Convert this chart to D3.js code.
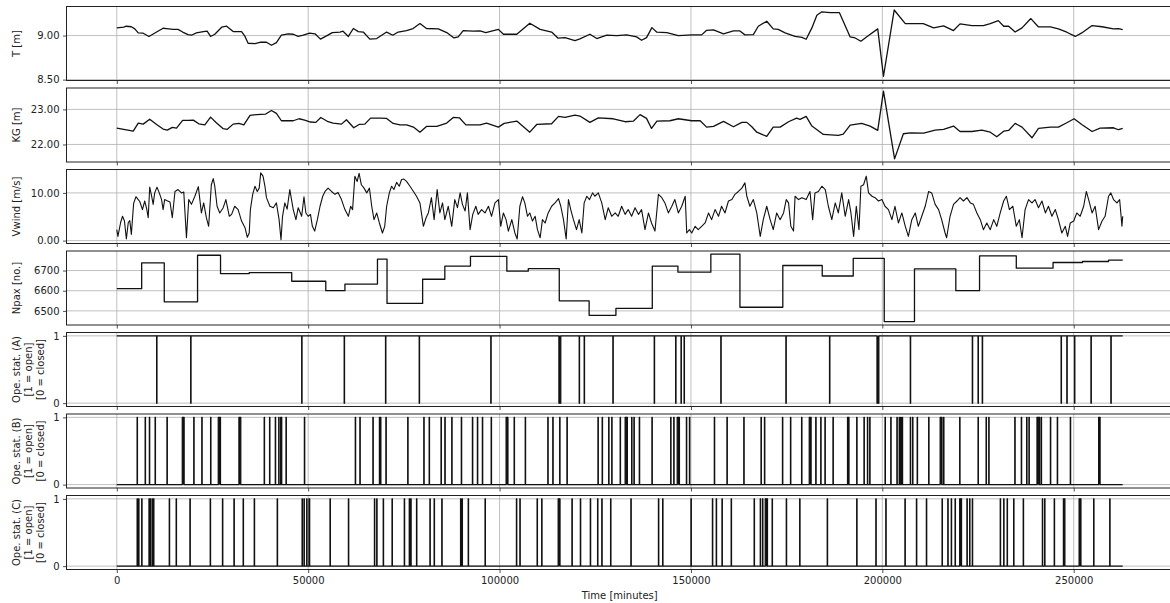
<!DOCTYPE html>
<html>
<head>
<meta charset="utf-8">
<script src="https://cdn.jsdelivr.net/npm/d3@7"></script>
<style>
  body { margin: 0; background: #fff; }
  text { font-family: "DejaVu Sans", sans-serif; }
</style>
</head>
<body>
<div id="chart"></div>
<script>
// ---- data (time in minutes) ----
const xTicks = [0, 50000, 100000, 150000, 200000, 250000];
const tEnd = 262800;

// draft T [m]
const draft = [[0,9.087],[1800,9.095],[2500,9.106],[3800,9.100],[4700,9.076],[5600,9.030],[6900,9.027],[8400,8.990],[10400,9.040],[12100,9.083],[13000,9.080],[14700,9.070],[16000,9.070],[17200,9.040],[18600,9.010],[19500,9.004],[20800,9.030],[22600,9.045],[23600,9.050],[24500,8.990],[25600,9.015],[27400,9.095],[28700,9.106],[30400,9.045],[32600,9.045],[33500,8.990],[34300,8.913],[36100,8.909],[37400,8.924],[39100,8.924],[40400,8.890],[41700,8.920],[43000,9.004],[44800,9.020],[46100,9.015],[47400,8.990],[48700,9.004],[50400,9.027],[51800,9.020],[53200,8.960],[54800,8.996],[56300,9.034],[58300,9.040],[59100,9.050],[60500,8.990],[61800,9.080],[63100,9.045],[64400,9.040],[66100,8.960],[67900,8.966],[70500,9.040],[72100,9.004],[73500,9.040],[75700,9.057],[77400,9.080],[79200,9.136],[80900,9.080],[84000,9.076],[86200,9.034],[88100,8.973],[89200,8.985],[90500,9.057],[93100,9.050],[94900,9.053],[96400,9.034],[99700,9.070],[101000,9.015],[104500,9.015],[107900,9.140],[110600,9.070],[113600,9.040],[115300,8.970],[117100,8.977],[119700,8.943],[121000,8.962],[123600,9.015],[125400,8.966],[128000,9.004],[130600,9.000],[133200,9.008],[135800,8.985],[137100,8.947],[138400,8.977],[139800,9.090],[141100,9.038],[143700,9.034],[146700,9.000],[150200,9.008],[152800,9.008],[154100,9.060],[155900,9.064],[158500,9.020],[161100,9.053],[162800,9.053],[164100,9.008],[166300,9.010],[167600,9.106],[169800,9.163],[171500,9.076],[172800,9.070],[174600,9.030],[177200,8.990],[179000,8.980],[180100,8.958],[181600,9.087],[182900,9.230],[184200,9.270],[186400,9.260],[188800,9.260],[191600,8.985],[192900,8.973],[194400,8.936],[196400,9.000],[198800,9.076],[200300,8.538],[203100,9.290],[206000,9.136],[207300,9.136],[210700,9.136],[213400,9.087],[216000,9.110],[218600,9.057],[220300,9.133],[223400,9.114],[226400,9.114],[228200,9.136],[230300,9.170],[231700,9.106],[233000,9.106],[234700,9.040],[236500,9.087],[238800,9.193],[240800,9.098],[243900,9.098],[246000,9.076],[248200,9.038],[250400,8.990],[252100,9.030],[254800,9.114],[257400,9.100],[260400,9.076],[261700,9.080],[262800,9.068]];

// KG [m]
const kg = [[0,22.467],[1800,22.43],[4300,22.38],[5600,22.61],[6900,22.58],[8600,22.72],[10400,22.57],[12100,22.44],[13200,22.41],[14500,22.486],[15600,22.467],[17200,22.686],[18600,22.686],[20000,22.695],[21400,22.59],[23000,22.56],[24500,22.78],[26000,22.62],[27800,22.45],[28800,22.43],[30400,22.58],[31900,22.6],[33200,22.56],[34800,22.83],[36500,22.85],[38900,22.867],[40400,22.97],[41700,22.886],[43000,22.676],[46100,22.676],[47600,22.733],[49100,22.695],[50600,22.64],[52000,22.63],[53300,22.77],[55200,22.648],[56500,22.61],[58700,22.58],[60000,22.705],[61900,22.476],[63300,22.57],[64800,22.58],[66300,22.75],[68700,22.75],[70500,22.743],[72200,22.6],[74000,22.56],[75700,22.56],[77500,22.495],[79200,22.35],[80900,22.514],[83600,22.514],[86200,22.61],[87900,22.77],[89500,22.76],[91200,22.56],[94900,22.56],[96600,22.61],[99700,22.495],[101200,22.6],[104500,22.667],[107900,22.35],[109700,22.57],[113600,22.59],[115400,22.8],[117100,22.77],[119700,22.838],[121000,22.81],[123600,22.63],[125800,22.76],[129700,22.733],[132800,22.648],[135000,22.667],[136700,22.85],[138400,22.743],[139700,22.457],[141100,22.667],[144500,22.676],[146700,22.733],[150200,22.676],[152400,22.676],[154100,22.495],[155900,22.514],[158500,22.657],[161100,22.505],[163300,22.63],[164600,22.63],[165900,22.505],[167200,22.35],[169800,22.23],[171500,22.495],[173300,22.495],[175500,22.648],[177600,22.75],[178500,22.714],[180100,22.8],[181600,22.524],[184600,22.286],[188500,22.257],[189800,22.295],[191600,22.55],[194600,22.6],[196800,22.524],[198800,22.4],[200300,23.52],[203200,21.59],[205500,22.305],[207300,22.333],[210800,22.324],[213800,22.41],[216000,22.43],[218600,22.524],[220300,22.37],[223400,22.37],[226000,22.41],[228200,22.35],[229900,22.22],[231700,22.38],[233000,22.4],[234700,22.6],[236500,22.495],[239100,22.19],[240800,22.457],[243900,22.495],[246000,22.495],[248200,22.62],[250100,22.733],[252100,22.57],[254800,22.37],[256900,22.467],[260400,22.476],[261700,22.42],[262800,22.457]];

// wind speed [m/s]
const vwind = [[0,2.3],[300,0.9],[1000,3.8],[1500,5.1],[2000,4.1],[2500,0.35],[3000,3.8],[3400,4.2],[3800,1.3],[4400,7.8],[5000,9.2],[5600,8.6],[6000,8.2],[6700,6.5],[7300,8.3],[7800,6.7],[8200,4.8],[8600,11.2],[9100,9.3],[9500,7.6],[9900,10.0],[10500,11.2],[11100,10.0],[11700,8.6],[12100,6.5],[12500,8.6],[13000,8.4],[13900,8.1],[14500,4.8],[15200,10.3],[16000,10.7],[16900,10.0],[17500,10.2],[18200,0.6],[18800,8.6],[19500,7.6],[20400,9.3],[21300,11.3],[21700,8.6],[22100,5.8],[22700,7.9],[23400,4.8],[24000,3.0],[24700,11.7],[25200,13.0],[25600,11.4],[26200,7.2],[26900,5.8],[27800,6.9],[28500,8.6],[29400,5.1],[30000,5.5],[30800,7.2],[31700,6.5],[32600,4.1],[33500,2.7],[34100,0.7],[34600,1.6],[34900,6.5],[35500,9.7],[36100,11.4],[36700,10.3],[37200,11.0],[37600,14.2],[38200,13.5],[38700,11.4],[39100,9.0],[40000,7.2],[40900,6.9],[41700,7.9],[42400,4.4],[42900,0.2],[43300,5.1],[43900,7.9],[44500,6.6],[45200,10.7],[46100,6.5],[46800,4.4],[47400,6.9],[48300,5.1],[48900,9.2],[49400,5.8],[50000,5.1],[50600,5.5],[51100,3.0],[51700,2.0],[52400,4.4],[53100,7.2],[53800,9.3],[54400,10.3],[55200,11.0],[56100,10.3],[57000,9.7],[57800,10.1],[58700,8.6],[59600,6.5],[60500,5.1],[61100,7.2],[61600,6.5],[62200,13.5],[62800,12.4],[63300,14.1],[63900,11.7],[64600,11.0],[65300,10.0],[66000,11.0],[66600,7.2],[67200,4.4],[67900,5.8],[68600,3.7],
[69400,1.6],[70000,3.0],[70500,7.2],[71200,10.0],[71800,11.4],[72400,10.7],[73100,12.2],[73800,11.4],[74400,12.8],[75000,12.9],[75700,12.4],[76600,11.4],[77500,10.3],[78300,9.3],[79200,7.9],[80100,3.0],[80800,4.8],[81400,5.8],[82200,9.0],[82900,4.4],[83700,10.7],[84400,5.8],[85100,7.9],[85700,4.4],[86600,7.2],[87500,3.0],[88300,8.6],[89000,6.9],[89700,10.0],[90300,7.6],[91000,6.2],[91600,10.0],[92300,2.3],[93000,5.5],[93800,7.2],[94400,5.5],[95300,6.5],[96200,5.8],[97100,7.2],[97900,5.1],[98800,7.9],[99700,8.6],[100300,3.0],[101000,5.8],[101700,4.4],[102300,2.0],[103200,4.4],[104000,1.6],[104600,0.35],[105300,7.2],[106000,9.2],[106600,7.9],[107300,5.1],[107900,5.8],[108600,4.1],[109300,5.1],[109900,2.3],[110600,0.6],[111200,4.4],[111900,3.7],[112700,5.8],[113600,7.2],[114500,7.9],[115400,8.8],[116000,7.2],[116700,4.4],[117400,0.35],[118000,8.6],[118600,6.5],[119300,4.4],[120100,2.3],[120800,4.4],[121500,1.6],[122100,7.9],[122800,9.3],[123500,8.6],[124300,10.0],[124900,9.3],[125800,10.0],[126700,7.9],[127600,4.4],[128400,6.9],[129300,5.1],[130200,5.8],[131000,5.1],[131900,7.2],[132800,5.5],[133600,6.5],[134500,5.1],[135400,6.9],[136300,5.5],[137100,6.5],[138000,2.3],[138900,5.8],[139700,3.7],[140600,2.0],[141500,9.7],[142400,9.0],[143200,7.9],[144100,5.8],[145000,7.2],[145800,8.6],[146700,5.8],[147600,7.2],[148500,9.3],[148900,1.6],[149600,2.3],[150200,1.6],[151100,3.0],[151900,2.3],[152800,3.0],[153700,3.7],[154600,5.8],[155400,4.4],[156300,6.5],[157200,5.1],[158000,7.2],[158900,5.8],[159800,8.3],[160700,8.6],[161500,9.7],[162400,10.3],[163300,11.0],[164100,12.1],[164600,9.3],[165400,7.2],[166300,8.6],[167200,5.8],[168100,0.9],[168900,4.4],[169800,7.2],[170700,4.4],[171500,2.3],[172400,5.8],
[173300,4.4],[174200,5.8],[174900,8.6],[175500,7.9],[176100,3.0],[176800,2.0],[177200,9.3],[178100,8.6],[179000,9.0],[180100,8.6],[181100,10.3],[181800,4.4],[182400,10.0],[183300,10.3],[184200,11.4],[185100,10.7],[185900,7.2],[186800,4.4],[187700,7.9],[188500,5.8],[189400,10.0],[190300,5.1],[191200,8.6],[191800,5.8],[192500,0.9],[193200,7.2],[193900,2.3],[194400,11.4],[195100,11.7],[195800,13.5],[196400,10.0],[197300,9.3],[198100,9.0],[199000,8.3],[199900,8.6],[200700,7.2],[201600,6.5],[202500,4.4],[203300,7.2],[204200,3.7],[205100,5.8],[206000,3.0],[206800,0.9],[207700,4.4],[208600,5.8],[209400,3.0],[210300,5.1],[211200,7.2],[212100,10.3],[212900,10.0],[213800,7.6],[214700,6.5],[215500,4.4],[216400,1.6],[216800,0.6],[217700,5.1],[218600,7.6],[219500,8.3],[220300,9.0],[221200,8.3],[222100,9.0],[223000,7.9],[223800,7.6],[224700,5.8],[225600,4.4],[226400,2.3],[227300,3.7],[228200,2.3],[229100,4.4],[229900,3.0],[230800,5.8],[231700,8.3],[232400,9.3],[233200,6.5],[234100,7.2],[235000,3.0],[235800,4.4],[236500,0.6],[237300,6.5],[238200,8.6],[239100,7.9],[239900,8.6],[240800,6.9],[241700,8.3],[242600,5.8],[243400,7.2],[244300,5.1],[245200,6.5],[246000,4.4],[246900,1.6],[247800,3.0],[248400,0.9],[249100,3.7],[250000,4.1],[250800,5.8],[251700,5.1],[252600,7.2],[253300,10.3],[253900,8.6],[254800,5.8],[255600,7.2],[256500,2.3],[257400,4.1],[258200,5.1],[259100,9.3],[259700,10.0],[260400,8.6],[261300,7.9],[262000,8.6],[262600,3.0],[262800,5.1]];

// passengers (step changes)
const npaxStarts = [0,6500,12400,21100,27100,34600,45700,54600,59600,68100,70600,79900,85700,92400,101900,107500,115600,123400,130400,139900,146600,155200,162800,174000,184300,192400,200500,208400,219200,225400,235000,244600,252300,259100];
const npaxValues = [6610,6738,6545,6776,6685,6690,6647,6600,6633,6757,6537,6657,6722,6770,6697,6710,6550,6478,6512,6722,6692,6782,6518,6725,6673,6760,6447,6708,6600,6773,6712,6740,6745,6752];

// operational status events: [start, duration] in minutes
const opsA = [[10400,100],[19300,100],[48300,100],[59400,100],[70200,100],[79000,100],[97700,100],[115500,500],[120800,100],[122100,100],[129600,100],[140400,100],[146000,100],[147400,100],[148200,100],[157800,100],[174800,100],[186200,100],[198600,500],[207300,100],[223500,100],[225000,100],[226100,100],[246700,100],[248200,100],[250200,100],[254500,100],[259700,100]];
const opsB = [[5300,100],[7400,100],[8500,100],[10000,100],[13100,100],[17100,500],[20100,100],[22200,100],[24500,100],[26500,600],[31900,500],[38500,100],[39900,100],[41400,100],[42300,100],[42800,300],[44200,100],[49000,100],[62300,100],[63500,100],[66900,100],[68600,100],[68900,100],[70300,100],[76000,100],[80200,100],[81600,100],[84700,100],[85700,100],[87500,100],[90000,100],[92900,100],[94200,100],[95500,100],[97800,100],[101700,500],[103800,100],[106700,100],[112600,100],[113900,100],[115700,100],[117600,100],[125700,100],[126800,100],[128500,100],[129300,100],[131500,100],[132800,400],[133300,100],[134500,100],[135100,100],[136500,100],[139800,100],[144700,100],[145500,100],[146400,500],[146900,100],[148800,100],[149600,100],[156100,100],[159400,100],[163800,100],[168300,100],[169200,100],[173900,100],[176000,100],[178900,100],[180900,500],[182600,100],[183900,100],[185000,100],[187100,100],[190900,400],[191200,100],[193300,100],[195200,100],[196100,100],[196700,100],[200700,100],[202200,100],[203800,100],[204400,100],[204800,100],[205200,100],[207300,100],[207900,100],[209100,100],[212100,100],[215100,500],[216000,100],[220200,100],[225000,100],[227100,100],[227800,100],[234600,100],[236300,100],[237700,100],[238300,100],[240400,500],[241000,100],[241500,100],[243900,100],[245700,100],[249100,100],[256500,400]];
const opsC = [[5300,100],[5700,100],[6500,100],[8400,100],[8700,100],[9200,100],[9600,100],[13700,100],[15500,100],[19100,100],[24400,100],[27600,100],[30600,100],[33000,100],[35900,100],[41900,100],[48400,100],[48900,100],[49600,100],[50200,200],[55700,100],[60500,100],[67300,100],[67900,100],[69600,100],[71900,100],[75100,100],[76400,100],[76800,100],[78300,100],[81800,100],[82900,100],[84900,100],[89800,100],[90200,100],[91800,100],[96200,100],[104400,100],[105300,100],[109800,100],[111000,100],[115300,500],[118900,100],[121100,100],[123700,100],[125600,100],[126700,100],[129000,100],[134300,100],[141500,100],[142600,100],[150000,100],[155600,100],[156600,100],[158100,100],[160500,100],[166500,100],[168100,100],[168700,100],[169400,500],[169900,100],[171200,100],[174900,100],[178400,100],[185600,100],[193300,100],[198300,100],[200900,100],[205900,100],[208900,100],[211500,100],[215600,100],[217100,100],[218000,100],[219000,100],[220200,500],[222100,100],[222800,100],[223500,100],[230800,100],[231700,100],[232600,100],[234300,100],[236800,100],[241800,100],[242400,100],[244900,100],[247300,400],[251400,500],[255200,100],[259400,100]];

// ---- helpers ----
function npaxPoints() {
  const pts = npaxStarts.map((t, i) => [t, npaxValues[i]]);
  pts.push([tEnd, npaxValues[npaxValues.length - 1]]);
  return pts;
}
function opsPoints(events, base, level) {
  const pts = [[0, base]];
  events.forEach(([t, d]) => {
    pts.push([t, base], [t, level], [t + d, level], [t + d, base]);
  });
  pts.push([tEnd, base]);
  return pts;
}

const panels = [
  {label: ["T [m]"], domain: [8.49, 9.33], ticks: [8.5, 9.0], fmt: ".2f", pts: draft, curve: d3.curveLinear, lw: 1.3},
  {label: ["KG [m]"], domain: [21.50, 23.61], ticks: [22, 23], fmt: ".2f", pts: kg, curve: d3.curveLinear, lw: 1.3},
  {label: ["Vwind [m/s]"], domain: [-0.6, 14.9], ticks: [0, 10], fmt: ".2f", pts: vwind, curve: d3.curveLinear, lw: 1.1},
  {label: ["Npax [no.]"], domain: [6430, 6797], ticks: [6500, 6600, 6700], fmt: "d", pts: npaxPoints(), curve: d3.curveStepAfter, lw: 1.3},
  {label: ["Ope. stat. (A)", "[1 = open]", "[0 = closed]"], domain: [-0.05, 1.05], ticks: [0, 1], fmt: "d", pts: opsPoints(opsA, 1, 0), base: 1, curve: d3.curveLinear, lw: 1.2},
  {label: ["Ope. stat. (B)", "[1 = open]", "[0 = closed]"], domain: [-0.05, 1.05], ticks: [0, 1], fmt: "d", pts: opsPoints(opsB, 0, 1), base: 0, curve: d3.curveLinear, lw: 1.2},
  {label: ["Ope. stat. (C)", "[1 = open]", "[0 = closed]"], domain: [-0.05, 1.05], ticks: [0, 1], fmt: "d", pts: opsPoints(opsC, 0, 1), base: 0, curve: d3.curveLinear, lw: 1.2}
];

// ---- layout ----
const W = 1170, H = 603;
const left = 66.5, right = 1173, top0 = 6.5, step = 81.5, ph = 74;
const ink = "#222";

const svg = d3.select("#chart").append("svg")
  .attr("width", W).attr("height", H);

const x = d3.scaleLinear().domain([-13140, 275940]).range([left, right]);

panels.forEach((p, i) => {
  const top = top0 + i * step;
  const y = d3.scaleLinear().domain(p.domain).range([top + ph, top]);
  const g = svg.append("g");

  // grid
  g.selectAll(".gx").data(xTicks).join("line")
    .attr("x1", d => x(d)).attr("x2", d => x(d))
    .attr("y1", top).attr("y2", top + ph)
    .attr("stroke", "#b0b0b0").attr("stroke-width", 0.8);
  g.selectAll(".gy").data(p.ticks).join("line")
    .attr("x1", left).attr("x2", right)
    .attr("y1", d => y(d)).attr("y2", d => y(d))
    .attr("stroke", "#b0b0b0").attr("stroke-width", 0.8);

  // wide status events: fill between base level and value so they read solid
  if (p.base !== undefined) {
    const area = d3.area().x(d => x(d[0])).y0(y(p.base)).y1(d => y(d[1]));
    g.append("path").datum(p.pts)
      .attr("d", area)
      .attr("fill", "#111")
      .attr("stroke", "none");
  }

  // series
  const line = d3.line().x(d => x(d[0])).y(d => y(d[1])).curve(p.curve);
  g.append("path").datum(p.pts)
    .attr("d", line)
    .attr("fill", "none")
    .attr("stroke", "#111")
    .attr("stroke-width", p.lw)
    .attr("stroke-linejoin", "round");

  // frame
  g.append("rect")
    .attr("x", left).attr("y", top)
    .attr("width", right - left).attr("height", ph)
    .attr("fill", "none").attr("stroke", ink).attr("stroke-width", 1);

  // y axis
  const ya = g.append("g").attr("transform", `translate(${left},0)`)
    .call(d3.axisLeft(y).tickValues(p.ticks).tickFormat(d3.format(p.fmt))
      .tickSize(3.5).tickPadding(3.5));
  ya.select(".domain").remove();
  ya.selectAll("line").attr("stroke", ink).attr("stroke-width", 0.8);
  ya.selectAll("text").attr("fill", ink)
    .attr("font-size", 10).attr("font-family", "DejaVu Sans");

  // x axis ticks (labels only on the last panel)
  const last = i === panels.length - 1;
  const xa = g.append("g").attr("transform", `translate(0,${top + ph})`)
    .call(d3.axisBottom(x).tickValues(xTicks).tickFormat(last ? d3.format("d") : () => "")
      .tickSize(3.5).tickPadding(3.5));
  xa.select(".domain").remove();
  xa.selectAll("line").attr("stroke", ink).attr("stroke-width", 0.8);
  xa.selectAll("text").attr("fill", ink)
    .attr("font-size", 10).attr("font-family", "DejaVu Sans");

  // y label
  const cy = top + ph / 2;
  const xs = p.label.length === 1 ? [16] : [16, 28, 40];
  p.label.forEach((s, k) => {
    svg.append("text")
      .attr("transform", `translate(${xs[k]},${cy}) rotate(-90)`)
      .attr("text-anchor", "middle")
      .attr("dominant-baseline", "central")
      .attr("font-size", 10)
      .attr("fill", ink)
      .text(s);
  });
});

svg.append("text")
  .attr("x", (left + right) / 2).attr("y", 599)
  .attr("text-anchor", "middle")
  .attr("font-size", 10)
  .attr("fill", ink)
  .text("Time [minutes]");
</script>
</body>
</html>
